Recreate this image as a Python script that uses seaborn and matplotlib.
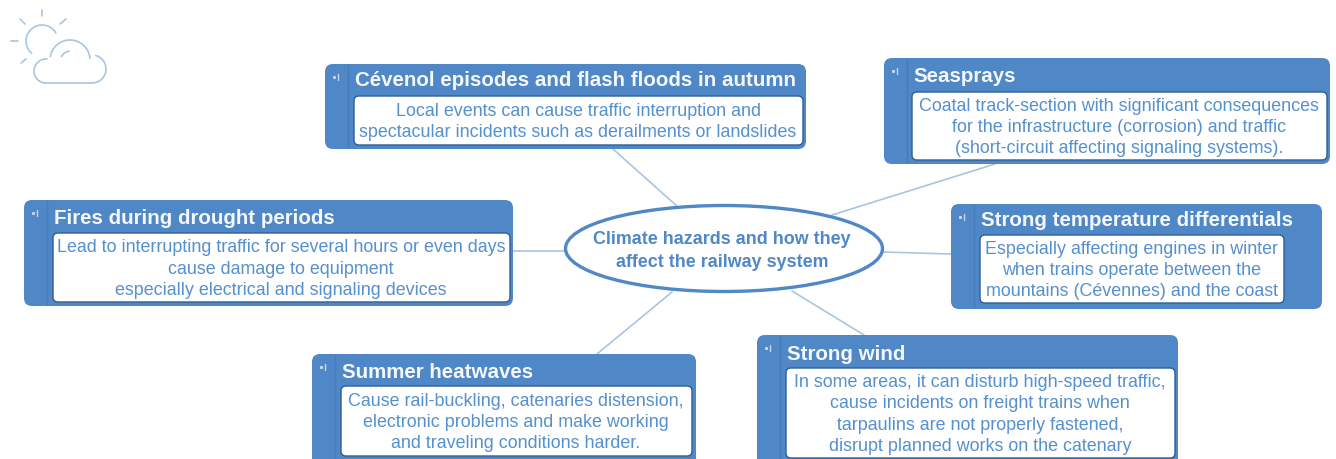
import numpy as np
import pandas as pd
import matplotlib.pyplot as plt
from matplotlib.patches import Ellipse, FancyBboxPatch
import seaborn as sns
sns.set_theme(style='white')
plt.rcParams['font.family'] = ['Liberation Sans', 'DejaVu Sans']

### Data
titles = ['Cévenol episodes and flash floods in autumn', 'Seasprays', 'Fires during drought periods',
          'Strong temperature differentials', 'Summer heatwaves', 'Strong wind']
bodies = ['Local events can cause traffic interruption and\nspectacular incidents such as derailments or landslides',
          'Coatal track-section with significant consequences\nfor the infrastructure (corrosion) and traffic\n(short-circuit affecting signaling systems).',
          'Lead to interrupting traffic for several hours or even days\ncause damage to equipment\nespecially electrical and signaling devices',
          'Especially affecting engines in winter\nwhen trains operate between the\nmountains (Cévennes) and the coast',
          'Cause rail-buckling, catenaries distension,\nelectronic problems and make working\nand traveling conditions harder.',
          'In some areas, it can disturb high-speed traffic,\ncause incidents on freight trains when\ntarpaulins are not properly fastened,\ndisrupt planned works on the catenary']
center_title = 'Climate hazards and how they\naffect the railway system'

# pixel layout of the mind map
outer_boxes = [(325, 64, 806, 149), (884, 58, 1330, 164), (24, 200, 513, 306),
               (951, 204, 1322, 309), (312, 354, 696, 470), (757, 335, 1178, 470)]
inner_boxes = [(354, 96, 803, 145), (912, 92, 1327, 160), (53, 233, 510, 302),
               (980, 235, 1284, 303), (341, 386, 692, 456), (786, 368, 1175, 458)]
title_y = [81, 77, 219, 221, 372, 354]
spokes_x = [(613, 678), (995, 832), (513, 565), (883, 951), (672, 597), (792, 864)]
spokes_y = [(149, 207), (164, 215), (251, 251), (252, 254), (292, 354), (291, 335)]

blue = '#4f87c7'
text_blue = '#5590cf'
spoke_blue = '#a8c5e2'
icon_blue = '#a6c6e3'

fig, ax = plt.subplots(figsize=(13.36, 4.59), dpi=100)
fig.subplots_adjust(0, 0, 1, 1)

# spokes behind everything
for sx, sy in zip(spokes_x, spokes_y):
    df = pd.DataFrame({'x': sx, 'y': sy})
    sns.lineplot(data=df, x='x', y='y', ax=ax, sort=False, color=spoke_blue, linewidth=1.2, zorder=1)
ax.set_xlim(0, 1336)
ax.set_ylim(459, 0)
ax.axis('off')

# boxes
for title, body, ob, ib, ty in zip(titles, bodies, outer_boxes, inner_boxes, title_y):
    x0, y0, x1, y1 = ob
    ax.add_patch(FancyBboxPatch((x0 + 8, y0 + 8), x1 - x0 - 16, y1 - y0 - 16, boxstyle='round,pad=8,rounding_size=8',
                                fc=blue, ec='none', zorder=2))
    ax.plot([x0 + 23, x0 + 23], [y0 + 1, y1 - 1], color='#447cbc', lw=1, zorder=3)
    ax.plot([x0 + 9], [y0 + 13], 's', ms=1.2, color='#c3d8ee', zorder=4)
    ax.plot([x0 + 13, x0 + 13], [y0 + 10, y0 + 16], color='#c3d8ee', lw=1.0, zorder=4)
    a0, b0, a1, b1 = ib
    ax.add_patch(FancyBboxPatch((a0 + 5, b0 + 5), a1 - a0 - 10, b1 - b0 - 10, boxstyle='round,pad=5,rounding_size=5',
                                fc='white', ec='#2f5f96', lw=1, zorder=3))
    ax.text(a0 + 1, ty, title, color='#f4f8fc', fontsize=14.75, fontweight='bold', va='center', ha='left', zorder=5)
    ax.text((a0 + a1) / 2 - 0.5, (b0 + b1) / 2 + 1.5, body, color=text_blue, fontsize=12.9, va='center', ha='center',
            linespacing=1.33, multialignment='center', zorder=5)

# central ellipse
ax.add_patch(Ellipse((724, 248.5), 317, 86, fc='white', ec=blue, lw=2.4, zorder=3))
ax.text(722, 251, center_title, color=blue, fontsize=12.9, fontweight='bold', va='center', ha='center',
        linespacing=1.45, zorder=5)

# weather icon
def arc(cx, cy, r, start, end):
    t = np.radians(np.linspace(start, end, 40))
    ax.plot(cx + r * np.cos(t), cy - r * np.sin(t), color=icon_blue, lw=1.2, zorder=2, solid_capstyle='round')

arc(42, 41, 16, 30, 230)
arc(70, 60, 20, 5, 170)
arc(46, 71, 12, 85, 270)
arc(92, 69, 14, -90, 75)
arc(71, 62, 11, 100, 150)
ax.plot([46, 92], [83, 83], color=icon_blue, lw=1.2, zorder=2)
for rx, ry in [((42, 42), (10, 16)), ((20, 25), (19, 24)), ((60, 66), (24, 19)),
               ((11, 18), (41, 41)), ((21, 26), (63, 59))]:
    ax.plot(rx, ry, color=icon_blue, lw=1.2, zorder=2, solid_capstyle='round')

fig.savefig('out.png', dpi=100, facecolor='white')
